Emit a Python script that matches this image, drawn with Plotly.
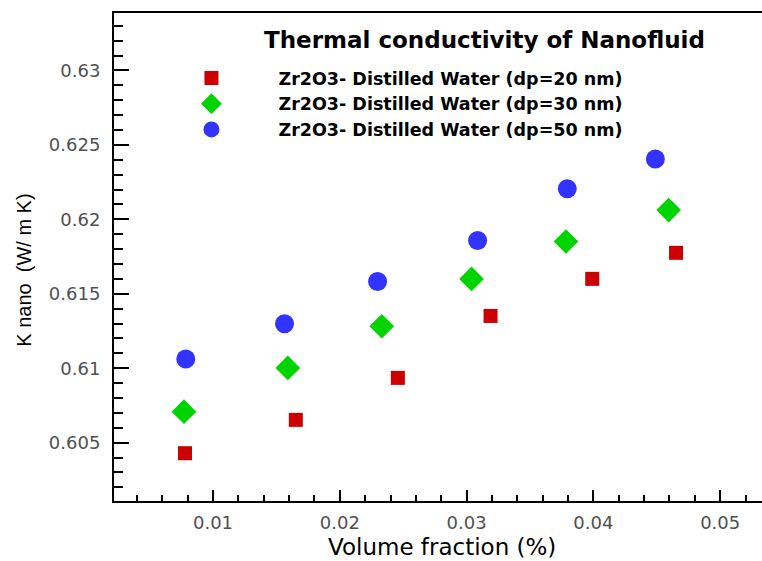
import plotly.graph_objects as go

# Data
x_20 = [0.00779, 0.01653, 0.02458, 0.03189, 0.03991, 0.04652]
k_20 = [0.60429, 0.60653, 0.60935, 0.61351, 0.61600, 0.61775]

x_30 = [0.00771, 0.01590, 0.02331, 0.03039, 0.03784, 0.04594]
k_30 = [0.60708, 0.61002, 0.61282, 0.61600, 0.61851, 0.62062]

x_50 = [0.00785, 0.01564, 0.02298, 0.03087, 0.03794, 0.04489]
k_50 = [0.61062, 0.61298, 0.61582, 0.61858, 0.62205, 0.62405]

names = [
    "Zr2O3- Distilled Water (dp=20 nm)",
    "Zr2O3- Distilled Water (dp=30 nm)",
    "Zr2O3- Distilled Water (dp=50 nm)",
]

x_ticks = [0.01, 0.02, 0.03, 0.04, 0.05]
x_tick_text = ["0.01", "0.02", "0.03", "0.04", "0.05"]
y_ticks = [0.605, 0.61, 0.615, 0.62, 0.625, 0.63]
y_tick_text = ["0.605", "0.61", "0.615", "0.62", "0.625", "0.63"]

fig = go.Figure()
fig.add_trace(go.Scatter(x=x_20, y=k_20, mode="markers", name=names[0],
                         marker=dict(symbol="square", size=14, color="#CC0000")))
fig.add_trace(go.Scatter(x=x_30, y=k_30, mode="markers", name=names[1],
                         marker=dict(symbol="diamond", size=19, color="#00D400")))
fig.add_trace(go.Scatter(x=x_50, y=k_50, mode="markers", name=names[2],
                         marker=dict(symbol="circle", size=19, color="#3333FF")))

fig.update_layout(
    width=762, height=561,
    margin=dict(l=114, r=0, t=13, b=60, autoexpand=False),
    paper_bgcolor="white", plot_bgcolor="white",
    font=dict(family="Liberation Sans, Arial, sans-serif"),
    showlegend=True,
    legend=dict(x=0.047, y=0.9036, xanchor="left", yanchor="top",
                bgcolor="rgba(0,0,0,0)", itemwidth=124,
                font=dict(size=17.5, color="black", family="DejaVu Sans, sans-serif",
                          weight="bold")),
    annotations=[
        dict(text="<b>Thermal conductivity of Nanofluid</b>",
             x=0.229, y=0.945, xref="paper", yref="paper",
             xanchor="left", yanchor="middle", showarrow=False,
             font=dict(size=23, color="black", family="DejaVu Sans, sans-serif")),
        dict(text="Volume fraction (%)", x=0.506, y=-0.095, xref="paper", yref="paper",
             xanchor="center", yanchor="middle", showarrow=False,
             font=dict(size=23, color="black", family="DejaVu Sans, sans-serif")),
        dict(text="K nano  (W/ m K)", x=-0.138, y=0.473, xref="paper", yref="paper",
             xanchor="center", yanchor="middle", showarrow=False, textangle=-90,
             font=dict(size=20, color="black", family="Liberation Sans, Arial, sans-serif")),
    ],
)

fig.update_xaxes(
    range=[0.00219, 0.0533], showline=True, linecolor="black", linewidth=2,
    mirror=True, showgrid=False, zeroline=False, automargin=False,
    tickmode="array", tickvals=x_ticks, ticktext=x_tick_text,
    ticks="inside", ticklen=11, tickwidth=2, tickcolor="black",
    minor=dict(ticks="inside", ticklen=6, tickwidth=1.5, dtick=0.002,
               tick0=0, tickcolor="black", showgrid=False),
    tickfont=dict(size=18, color="#505050", family="DejaVu Sans, sans-serif"),
    ticklabelstandoff=4,
)
fig.update_yaxes(
    range=[0.60108, 0.63386], showline=True, linecolor="black", linewidth=2,
    mirror=False, showgrid=False, zeroline=False, automargin=False,
    tickmode="array", tickvals=y_ticks, ticktext=y_tick_text,
    ticks="inside", ticklen=15, tickwidth=2, tickcolor="black",
    minor=dict(ticks="inside", ticklen=9, tickwidth=1.5, dtick=0.001,
               tick0=0, tickcolor="black", showgrid=False),
    tickfont=dict(size=18, color="#505050", family="DejaVu Sans, sans-serif"),
    ticklabelstandoff=8,
)

fig.write_html("out.html", post_script="document.body.style.margin='0';",
               config={"displayModeBar": False})
